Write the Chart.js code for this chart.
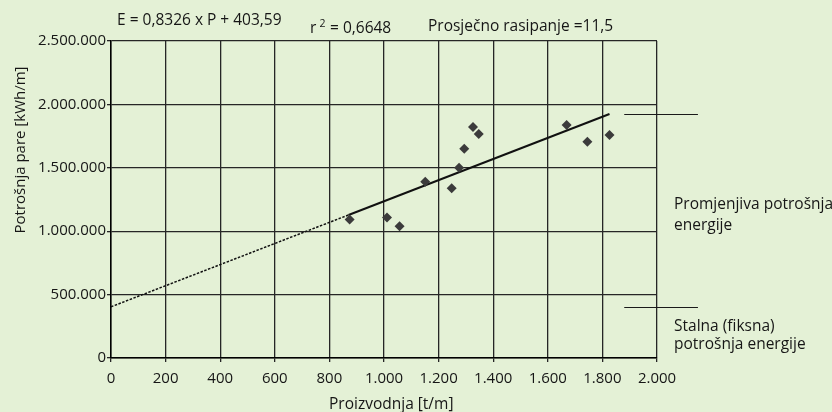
<!DOCTYPE html>
<html>
<head>
<meta charset="utf-8">
<script src="https://cdn.jsdelivr.net/npm/chart.js@4"></script>
<style>
  html, body { margin: 0; padding: 0; background: #e4f1d6; }
  #wrap { width: 832px; height: 412px; }
</style>
</head>
<body>
<div id="wrap"><canvas id="myChart" width="832" height="412"></canvas></div>
<script>
// measured points: production [t/m] vs steam use [kWh/m]
const production = [874, 1011, 1057, 1151, 1248, 1275, 1294, 1326, 1347, 1669, 1745, 1826];
const steamUse = [1093000, 1109000, 1040000, 1390000, 1338000, 1501000, 1651000, 1822000, 1767000, 1838000, 1706000, 1759000];

// regression line E = 0,8326 x P + 403,59 (dotted part is extrapolation)
const trendDottedX = [0, 870];
const trendDottedY = [403590, 1127950];
const trendSolidX = [870, 1826];
const trendSolidY = [1127950, 1923890];

const xTicks = [0, 200, 400, 600, 800, 1000, 1200, 1400, 1600, 1800, 2000];
const yTicks = [0, 500000, 1000000, 1500000, 2000000, 2500000];

// the two marker lines on the right side (top of line / intercept)
const bracketLevels = [1923890, 403590];
const bracketRange = [1880, 2150];

const FONT = '"Open Sans", "DejaVu Sans", sans-serif';
const TEXT = '#161616';
const GRID = '#262626';

const fmt = v => String(v).replace(/\B(?=(\d{3})+(?!\d))/g, '.');
const toPoints = (xs, ys) => xs.map((x, i) => ({ x: x, y: ys[i] }));

const background = {
    id: 'background',
    beforeDraw(chart) {
        const c = chart.ctx;
        c.save();
        c.fillStyle = '#e4f1d6';
        c.fillRect(0, 0, chart.width, chart.height);
        c.restore();
    }
};

const notes = {
    id: 'notes',
    afterDraw(chart) {
        const c = chart.ctx;
        const xs = chart.scales.x;
        const ys = chart.scales.y;
        c.save();
        c.fillStyle = TEXT;
        c.textBaseline = 'alphabetic';
        c.textAlign = 'left';

        c.font = '15.5px ' + FONT;
        c.fillText('E = 0,8326 x P + 403,59', 117, 25);
        c.fillText('r', 310, 33);
        c.fillText('= 0,6648', 330, 33);
        c.fillText('Prosječno rasipanje =11,5', 428, 31);
        c.font = '10.5px ' + FONT;
        c.fillText('2', 319.5, 27);

        c.font = '15.5px ' + FONT;
        c.fillText('Promjenjiva potrošnja', 674, 209);
        c.fillText('energije', 674, 230);
        c.fillText('Stalna (fiksna)', 674, 331);
        c.fillText('potrošnja energije', 674, 349);

        // axis titles
        c.fillText('Proizvodnja [t/m]', 329, 409);
        c.save();
        c.translate(25, 150);
        c.rotate(-Math.PI / 2);
        c.textAlign = 'center';
        c.font = '15px ' + FONT;
        c.fillText('Potrošnja pare [kWh/m]', 0, 0);
        c.restore();

        // marker lines right of the plot
        c.strokeStyle = '#1a1a1a';
        c.lineWidth = 1;
        bracketLevels.forEach(level => {
            const y = Math.round(ys.getPixelForValue(level)) + 0.5;
            c.beginPath();
            c.moveTo(xs.getPixelForValue(bracketRange[0]), y);
            c.lineTo(xs.getPixelForValue(bracketRange[1]), y);
            c.stroke();
        });
        c.restore();
    }
};

const ctx = document.getElementById('myChart');
const myChart = new Chart(ctx, { // eslint-disable-line
    type: 'scatter',
    data: {
        datasets: [{
            label: 'Mjerenja',
            data: toPoints(production, steamUse),
            pointStyle: 'rectRot',
            pointRadius: 5,
            pointBackgroundColor: '#3b3b3b',
            pointBorderColor: '#3b3b3b',
            pointBorderWidth: 0,
            showLine: false,
            order: 0
        },
        {
            label: 'Trend (ekstrapolacija)',
            data: toPoints(trendDottedX, trendDottedY),
            showLine: true,
            borderColor: '#111',
            borderWidth: 1.5,
            borderDash: [2.5, 1.5],
            pointRadius: 0,
            order: 1
        },
        {
            label: 'Trend',
            data: toPoints(trendSolidX, trendSolidY),
            showLine: true,
            borderColor: '#111',
            borderWidth: 2,
            pointRadius: 0,
            order: 1
        }]
    },
    options: {
        responsive: false,
        animation: false,
        layout: { padding: { top: 41, right: 175, left: 0, bottom: 0 } },
        plugins: {
            legend: { display: false },
            tooltip: { enabled: false }
        },
        scales: {
            x: {
                type: 'linear',
                min: 0,
                max: 2000,
                afterBuildTicks: s => { s.ticks = xTicks.map(v => ({ value: v })); },
                afterFit: s => { s.height = 54; },
                ticks: {
                    callback: v => fmt(v),
                    font: { family: FONT, size: 15 },
                    color: TEXT,
                    padding: 8,
                    maxRotation: 0,
                    autoSkip: false
                },
                grid: { color: GRID, lineWidth: 1.3, tickLength: 4 },
                border: { color: '#000', width: 1.5 }
            },
            y: {
                min: 0,
                max: 2500000,
                afterBuildTicks: s => { s.ticks = yTicks.map(v => ({ value: v })); },
                afterFit: s => { s.width = 111; },
                ticks: {
                    callback: v => fmt(v),
                    font: { family: FONT, size: 15 },
                    color: TEXT,
                    padding: 1,
                    autoSkip: false
                },
                grid: { color: GRID, lineWidth: 1.3, tickLength: 4 },
                border: { color: '#000', width: 1.5 }
            }
        }
    },
    plugins: [background, notes]
});
</script>
</body>
</html>
